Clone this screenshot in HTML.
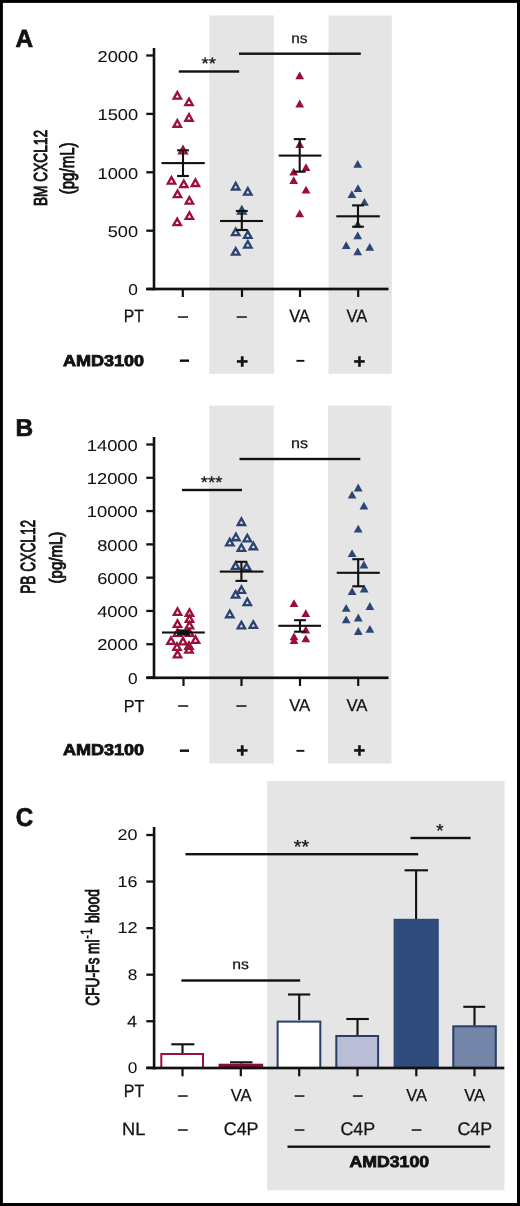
<!DOCTYPE html>
<html><head><meta charset="utf-8"><title>Figure</title>
<style>html,body{margin:0;padding:0;background:#fff;} svg{display:block;} text{font-family:"Liberation Sans", Arial, Helvetica, sans-serif;text-rendering:geometricPrecision;}</style>
</head><body>
<svg width="520" height="1206" viewBox="0 0 520 1206">
<rect x="0" y="0" width="520" height="1206" fill="#fff"/>
<rect x="209.30" y="15.40" width="64.60" height="358.40" fill="#e5e5e5"/>
<rect x="328.50" y="15.50" width="63.30" height="358.30" fill="#e5e5e5"/>
<text x="15.52" y="46.90" font-size="24.85" font-weight="bold" textLength="17.62" lengthAdjust="spacingAndGlyphs" fill="#111" stroke="#111" stroke-width="0.7">A</text>
<rect x="152.70" y="48.00" width="2.60" height="242.30" fill="#111"/>
<rect x="146.30" y="287.65" width="242.20" height="2.70" fill="#111"/>
<rect x="146.30" y="54.35" width="7.40" height="2.30" fill="#111"/>
<text x="97.49" y="61.74" font-size="15.63" textLength="40.63" lengthAdjust="spacingAndGlyphs" fill="#111" stroke="#111" stroke-width="0.05">2000</text>
<rect x="146.30" y="112.75" width="7.40" height="2.30" fill="#111"/>
<text x="97.49" y="120.14" font-size="15.63" textLength="40.62" lengthAdjust="spacingAndGlyphs" fill="#111" stroke="#111" stroke-width="0.05">1500</text>
<rect x="146.30" y="171.15" width="7.40" height="2.30" fill="#111"/>
<text x="97.49" y="178.54" font-size="15.63" textLength="40.62" lengthAdjust="spacingAndGlyphs" fill="#111" stroke="#111" stroke-width="0.05">1000</text>
<rect x="146.30" y="229.55" width="7.40" height="2.30" fill="#111"/>
<text x="107.69" y="236.94" font-size="15.63" textLength="30.31" lengthAdjust="spacingAndGlyphs" fill="#111" stroke="#111" stroke-width="0.05">500</text>
<rect x="146.30" y="287.85" width="7.40" height="2.30" fill="#111"/>
<text x="128.31" y="295.24" font-size="15.63" textLength="9.62" lengthAdjust="spacingAndGlyphs" fill="#111" stroke="#111" stroke-width="0.05">0</text>
<rect x="181.70" y="289.00" width="2.20" height="8.00" fill="#111"/>
<rect x="240.90" y="289.00" width="2.20" height="8.00" fill="#111"/>
<rect x="298.90" y="289.00" width="2.20" height="8.00" fill="#111"/>
<rect x="357.10" y="289.00" width="2.20" height="8.00" fill="#111"/>
<text transform="translate(46.96,206.04) rotate(-90)" x="0" y="0" font-size="18.87" textLength="76.05" lengthAdjust="spacingAndGlyphs" fill="#111" stroke="#111" stroke-width="0.9">BM CXCL12</text>
<text transform="translate(73.55,194.25) rotate(-90)" x="0" y="0" font-size="20.00" textLength="51.78" lengthAdjust="spacingAndGlyphs" fill="#111" stroke="#111" stroke-width="0.9">(pg/mL)</text>
<rect x="178.80" y="70.30" width="60.40" height="2.40" fill="#111"/>
<text x="201.58" y="68.98" font-size="16.57" textLength="14.52" lengthAdjust="spacingAndGlyphs" fill="#111" stroke="#111" stroke-width="0.25">**</text>
<rect x="239.00" y="52.50" width="121.80" height="2.40" fill="#111"/>
<text x="291.38" y="42.71" font-size="14.18" textLength="16.12" lengthAdjust="spacingAndGlyphs" fill="#111" stroke="#111" stroke-width="0.25">ns</text>
<text x="123.74" y="322.05" font-size="17.97" textLength="20.14" lengthAdjust="spacingAndGlyphs" fill="#111" stroke="#111" stroke-width="0.25">PT</text>
<text x="178.25" y="321.15" font-size="15.50" textLength="9.44" lengthAdjust="spacingAndGlyphs" fill="#111" stroke="#111" stroke-width="0.55">–</text>
<text x="237.05" y="321.15" font-size="15.50" textLength="9.44" lengthAdjust="spacingAndGlyphs" fill="#111" stroke="#111" stroke-width="0.55">–</text>
<text x="289.24" y="322.05" font-size="17.97" textLength="20.76" lengthAdjust="spacingAndGlyphs" fill="#111" stroke="#111" stroke-width="0.25">VA</text>
<text x="346.49" y="322.05" font-size="17.97" textLength="20.76" lengthAdjust="spacingAndGlyphs" fill="#111" stroke="#111" stroke-width="0.25">VA</text>
<text x="62.91" y="365.69" font-size="15.63" font-weight="bold" textLength="81.20" lengthAdjust="spacingAndGlyphs" fill="#111" stroke="#111" stroke-width="0.8">AMD3100</text>
<text x="179.15" y="365.46" font-size="16.00" font-weight="bold" textLength="10.39" lengthAdjust="spacingAndGlyphs" fill="#111" stroke="#111" stroke-width="0.6">-</text>
<text x="295.15" y="365.46" font-size="16.00" font-weight="bold" textLength="10.39" lengthAdjust="spacingAndGlyphs" fill="#111">-</text>
<text x="236.24" y="367.93" font-size="19.80" font-weight="bold" textLength="11.80" lengthAdjust="spacingAndGlyphs" fill="#111" stroke="#111" stroke-width="0.45">+</text>
<text x="353.44" y="367.93" font-size="19.80" font-weight="bold" textLength="11.80" lengthAdjust="spacingAndGlyphs" fill="#111" stroke="#111" stroke-width="0.45">+</text>
<path d="M177.30,89.75 L171.60,99.85 L183.00,99.85 Z M177.30,94.49 L175.59,97.52 L179.01,97.52 Z" fill="#9c0f3a" fill-rule="evenodd"/>
<path d="M189.00,96.15 L183.30,106.25 L194.70,106.25 Z M189.00,100.89 L187.29,103.92 L190.71,103.92 Z" fill="#9c0f3a" fill-rule="evenodd"/>
<path d="M189.00,111.85 L183.30,121.95 L194.70,121.95 Z M189.00,116.59 L187.29,119.62 L190.71,119.62 Z" fill="#9c0f3a" fill-rule="evenodd"/>
<path d="M177.30,117.85 L171.60,127.95 L183.00,127.95 Z M177.30,122.59 L175.59,125.62 L179.01,125.62 Z" fill="#9c0f3a" fill-rule="evenodd"/>
<path d="M183.00,144.45 L177.30,154.55 L188.70,154.55 Z M183.00,149.19 L181.29,152.22 L184.71,152.22 Z" fill="#9c0f3a" fill-rule="evenodd"/>
<path d="M171.50,174.75 L165.80,184.85 L177.20,184.85 Z M171.50,179.49 L169.79,182.52 L173.21,182.52 Z" fill="#9c0f3a" fill-rule="evenodd"/>
<path d="M183.80,178.25 L178.10,188.35 L189.50,188.35 Z M183.80,182.99 L182.09,186.02 L185.51,186.02 Z" fill="#9c0f3a" fill-rule="evenodd"/>
<path d="M195.40,177.05 L189.70,187.15 L201.10,187.15 Z M195.40,181.79 L193.69,184.82 L197.11,184.82 Z" fill="#9c0f3a" fill-rule="evenodd"/>
<path d="M177.50,188.25 L171.80,198.35 L183.20,198.35 Z M177.50,192.99 L175.79,196.02 L179.21,196.02 Z" fill="#9c0f3a" fill-rule="evenodd"/>
<path d="M189.40,194.75 L183.70,204.85 L195.10,204.85 Z M189.40,199.49 L187.69,202.52 L191.11,202.52 Z" fill="#9c0f3a" fill-rule="evenodd"/>
<path d="M189.40,209.95 L183.70,220.05 L195.10,220.05 Z M189.40,214.69 L187.69,217.72 L191.11,217.72 Z" fill="#9c0f3a" fill-rule="evenodd"/>
<path d="M177.20,216.25 L171.50,226.35 L182.90,226.35 Z M177.20,220.99 L175.49,224.02 L178.91,224.02 Z" fill="#9c0f3a" fill-rule="evenodd"/>
<path d="M235.70,180.55 L230.00,190.65 L241.40,190.65 Z M235.70,185.29 L233.99,188.32 L237.41,188.32 Z" fill="#2a4372" fill-rule="evenodd"/>
<path d="M247.80,185.75 L242.10,195.85 L253.50,195.85 Z M247.80,190.49 L246.09,193.52 L249.51,193.52 Z" fill="#2a4372" fill-rule="evenodd"/>
<path d="M241.80,204.75 L236.10,214.85 L247.50,214.85 Z M241.80,209.49 L240.09,212.52 L243.51,212.52 Z" fill="#2a4372" fill-rule="evenodd"/>
<path d="M235.70,226.15 L230.00,236.25 L241.40,236.25 Z M235.70,230.89 L233.99,233.92 L237.41,233.92 Z" fill="#2a4372" fill-rule="evenodd"/>
<path d="M247.80,228.95 L242.10,239.05 L253.50,239.05 Z M247.80,233.69 L246.09,236.72 L249.51,236.72 Z" fill="#2a4372" fill-rule="evenodd"/>
<path d="M247.80,238.75 L242.10,248.85 L253.50,248.85 Z M247.80,243.49 L246.09,246.52 L249.51,246.52 Z" fill="#2a4372" fill-rule="evenodd"/>
<path d="M235.70,245.75 L230.00,255.85 L241.40,255.85 Z M235.70,250.49 L233.99,253.52 L237.41,253.52 Z" fill="#2a4372" fill-rule="evenodd"/>
<path d="M299.70,71.50 L295.30,79.30 L304.10,79.30 Z" fill="#9a0f39"/>
<path d="M299.70,99.60 L295.30,107.40 L304.10,107.40 Z" fill="#9a0f39"/>
<path d="M299.70,140.10 L295.30,147.90 L304.10,147.90 Z" fill="#9a0f39"/>
<path d="M306.00,163.20 L301.60,171.00 L310.40,171.00 Z" fill="#9a0f39"/>
<path d="M293.70,167.80 L289.30,175.60 L298.10,175.60 Z" fill="#9a0f39"/>
<path d="M293.70,176.30 L289.30,184.10 L298.10,184.10 Z" fill="#9a0f39"/>
<path d="M306.00,185.70 L301.60,193.50 L310.40,193.50 Z" fill="#9a0f39"/>
<path d="M299.70,209.40 L295.30,217.20 L304.10,217.20 Z" fill="#9a0f39"/>
<path d="M357.70,159.90 L353.30,167.70 L362.10,167.70 Z" fill="#2c4676"/>
<path d="M358.00,184.20 L353.60,192.00 L362.40,192.00 Z" fill="#2c4676"/>
<path d="M351.90,190.20 L347.50,198.00 L356.30,198.00 Z" fill="#2c4676"/>
<path d="M364.40,198.00 L360.00,205.80 L368.80,205.80 Z" fill="#2c4676"/>
<path d="M357.70,219.90 L353.30,227.70 L362.10,227.70 Z" fill="#2c4676"/>
<path d="M357.70,231.50 L353.30,239.30 L362.10,239.30 Z" fill="#2c4676"/>
<path d="M346.20,241.30 L341.80,249.10 L350.60,249.10 Z" fill="#2c4676"/>
<path d="M369.80,243.00 L365.40,250.80 L374.20,250.80 Z" fill="#2c4676"/>
<path d="M357.70,247.40 L353.30,255.20 L362.10,255.20 Z" fill="#2c4676"/>
<rect x="161.50" y="162.05" width="43.30" height="2.10" fill="#111"/>
<rect x="181.95" y="150.30" width="2.10" height="25.70" fill="#111"/>
<rect x="177.10" y="149.25" width="11.80" height="2.10" fill="#111"/>
<rect x="177.10" y="174.95" width="11.80" height="2.10" fill="#111"/>
<rect x="220.10" y="219.95" width="42.90" height="2.10" fill="#111"/>
<rect x="240.75" y="211.00" width="2.10" height="19.00" fill="#111"/>
<rect x="235.90" y="209.95" width="11.80" height="2.10" fill="#111"/>
<rect x="235.90" y="228.95" width="11.80" height="2.10" fill="#111"/>
<rect x="278.70" y="154.55" width="42.70" height="2.10" fill="#111"/>
<rect x="298.65" y="139.10" width="2.10" height="32.60" fill="#111"/>
<rect x="293.80" y="138.05" width="11.80" height="2.10" fill="#111"/>
<rect x="293.80" y="170.65" width="11.80" height="2.10" fill="#111"/>
<rect x="336.30" y="215.25" width="43.50" height="2.10" fill="#111"/>
<rect x="356.95" y="205.40" width="2.10" height="21.30" fill="#111"/>
<rect x="352.10" y="204.35" width="11.80" height="2.10" fill="#111"/>
<rect x="352.10" y="225.65" width="11.80" height="2.10" fill="#111"/>
<rect x="209.30" y="405.60" width="64.50" height="357.90" fill="#e5e5e5"/>
<rect x="328.00" y="405.60" width="63.50" height="357.90" fill="#e5e5e5"/>
<text x="15.44" y="435.95" font-size="24.35" font-weight="bold" textLength="17.64" lengthAdjust="spacingAndGlyphs" fill="#111" stroke="#111" stroke-width="0.7">B</text>
<rect x="152.70" y="437.00" width="2.60" height="242.10" fill="#111"/>
<rect x="146.30" y="676.45" width="242.20" height="2.70" fill="#111"/>
<rect x="146.30" y="443.35" width="7.70" height="2.30" fill="#111"/>
<text x="86.80" y="450.74" font-size="15.63" textLength="50.94" lengthAdjust="spacingAndGlyphs" fill="#111" stroke="#111" stroke-width="0.05">14000</text>
<rect x="146.30" y="476.64" width="7.70" height="2.30" fill="#111"/>
<text x="86.80" y="484.03" font-size="15.63" textLength="50.94" lengthAdjust="spacingAndGlyphs" fill="#111" stroke="#111" stroke-width="0.05">12000</text>
<rect x="146.30" y="509.93" width="7.70" height="2.30" fill="#111"/>
<text x="86.80" y="517.32" font-size="15.63" textLength="50.94" lengthAdjust="spacingAndGlyphs" fill="#111" stroke="#111" stroke-width="0.05">10000</text>
<rect x="146.30" y="543.22" width="7.70" height="2.30" fill="#111"/>
<text x="97.18" y="550.61" font-size="15.63" textLength="40.63" lengthAdjust="spacingAndGlyphs" fill="#111" stroke="#111" stroke-width="0.05">8000</text>
<rect x="146.30" y="576.51" width="7.70" height="2.30" fill="#111"/>
<text x="97.19" y="583.90" font-size="15.63" textLength="40.63" lengthAdjust="spacingAndGlyphs" fill="#111" stroke="#111" stroke-width="0.05">6000</text>
<rect x="146.30" y="609.80" width="7.70" height="2.30" fill="#111"/>
<text x="97.18" y="617.19" font-size="15.63" textLength="40.64" lengthAdjust="spacingAndGlyphs" fill="#111" stroke="#111" stroke-width="0.05">4000</text>
<rect x="146.30" y="643.09" width="7.70" height="2.30" fill="#111"/>
<text x="97.19" y="650.48" font-size="15.63" textLength="40.63" lengthAdjust="spacingAndGlyphs" fill="#111" stroke="#111" stroke-width="0.05">2000</text>
<rect x="146.30" y="676.38" width="7.70" height="2.30" fill="#111"/>
<text x="128.01" y="683.77" font-size="15.63" textLength="9.62" lengthAdjust="spacingAndGlyphs" fill="#111" stroke="#111" stroke-width="0.05">0</text>
<rect x="182.40" y="677.80" width="2.20" height="8.20" fill="#111"/>
<rect x="240.40" y="677.80" width="2.20" height="8.20" fill="#111"/>
<rect x="298.90" y="677.80" width="2.20" height="8.20" fill="#111"/>
<rect x="357.10" y="677.80" width="2.20" height="8.20" fill="#111"/>
<text transform="translate(34.84,593.85) rotate(-90)" x="0" y="0" font-size="20.56" textLength="74.11" lengthAdjust="spacingAndGlyphs" fill="#111" stroke="#111" stroke-width="0.9">PB CXCL12</text>
<text transform="translate(62.07,583.45) rotate(-90)" x="0" y="0" font-size="17.98" textLength="51.68" lengthAdjust="spacingAndGlyphs" fill="#111" stroke="#111" stroke-width="0.9">(pg/mL)</text>
<rect x="182.00" y="488.80" width="60.00" height="2.40" fill="#111"/>
<text x="200.88" y="488.08" font-size="16.86" textLength="21.59" lengthAdjust="spacingAndGlyphs" fill="#111" stroke="#111" stroke-width="0.25">***</text>
<rect x="239.50" y="457.80" width="120.80" height="2.40" fill="#111"/>
<text x="291.12" y="447.70" font-size="14.55" textLength="17.01" lengthAdjust="spacingAndGlyphs" fill="#111" stroke="#111" stroke-width="0.25">ns</text>
<text x="123.70" y="711.65" font-size="17.39" textLength="20.79" lengthAdjust="spacingAndGlyphs" fill="#111" stroke="#111" stroke-width="0.25">PT</text>
<text x="178.55" y="710.35" font-size="15.50" textLength="9.44" lengthAdjust="spacingAndGlyphs" fill="#111" stroke="#111" stroke-width="0.55">–</text>
<text x="236.75" y="710.35" font-size="15.50" textLength="9.44" lengthAdjust="spacingAndGlyphs" fill="#111" stroke="#111" stroke-width="0.55">–</text>
<text x="289.23" y="710.85" font-size="17.10" textLength="21.06" lengthAdjust="spacingAndGlyphs" fill="#111" stroke="#111" stroke-width="0.25">VA</text>
<text x="346.48" y="710.85" font-size="17.10" textLength="21.06" lengthAdjust="spacingAndGlyphs" fill="#111" stroke="#111" stroke-width="0.25">VA</text>
<text x="62.91" y="755.19" font-size="15.63" font-weight="bold" textLength="81.20" lengthAdjust="spacingAndGlyphs" fill="#111" stroke="#111" stroke-width="0.8">AMD3100</text>
<text x="179.15" y="754.96" font-size="16.00" font-weight="bold" textLength="10.39" lengthAdjust="spacingAndGlyphs" fill="#111" stroke="#111" stroke-width="0.6">-</text>
<text x="295.15" y="754.96" font-size="16.00" font-weight="bold" textLength="10.39" lengthAdjust="spacingAndGlyphs" fill="#111">-</text>
<text x="236.24" y="757.43" font-size="19.80" font-weight="bold" textLength="11.80" lengthAdjust="spacingAndGlyphs" fill="#111" stroke="#111" stroke-width="0.45">+</text>
<text x="353.44" y="757.43" font-size="19.80" font-weight="bold" textLength="11.80" lengthAdjust="spacingAndGlyphs" fill="#111" stroke="#111" stroke-width="0.45">+</text>
<path d="M177.50,605.95 L171.80,616.05 L183.20,616.05 Z M177.50,610.69 L175.79,613.72 L179.21,613.72 Z" fill="#9c0f3a" fill-rule="evenodd"/>
<path d="M189.50,606.95 L183.80,617.05 L195.20,617.05 Z M189.50,611.69 L187.79,614.72 L191.21,614.72 Z" fill="#9c0f3a" fill-rule="evenodd"/>
<path d="M189.50,612.95 L183.80,623.05 L195.20,623.05 Z M189.50,617.69 L187.79,620.72 L191.21,620.72 Z" fill="#9c0f3a" fill-rule="evenodd"/>
<path d="M177.50,617.95 L171.80,628.05 L183.20,628.05 Z M177.50,622.69 L175.79,625.72 L179.21,625.72 Z" fill="#9c0f3a" fill-rule="evenodd"/>
<path d="M189.50,619.45 L183.80,629.55 L195.20,629.55 Z M189.50,624.19 L187.79,627.22 L191.21,627.22 Z" fill="#9c0f3a" fill-rule="evenodd"/>
<path d="M177.50,626.95 L171.80,637.05 L183.20,637.05 Z M177.50,631.69 L175.79,634.72 L179.21,634.72 Z" fill="#9c0f3a" fill-rule="evenodd"/>
<path d="M189.50,626.95 L183.80,637.05 L195.20,637.05 Z M189.50,631.69 L187.79,634.72 L191.21,634.72 Z" fill="#9c0f3a" fill-rule="evenodd"/>
<path d="M171.00,634.95 L165.30,645.05 L176.70,645.05 Z M171.00,639.69 L169.29,642.72 L172.71,642.72 Z" fill="#9c0f3a" fill-rule="evenodd"/>
<path d="M183.00,635.45 L177.30,645.55 L188.70,645.55 Z M183.00,640.19 L181.29,643.22 L184.71,643.22 Z" fill="#9c0f3a" fill-rule="evenodd"/>
<path d="M195.50,633.95 L189.80,644.05 L201.20,644.05 Z M195.50,638.69 L193.79,641.72 L197.21,641.72 Z" fill="#9c0f3a" fill-rule="evenodd"/>
<path d="M177.00,640.95 L171.30,651.05 L182.70,651.05 Z M177.00,645.69 L175.29,648.72 L178.71,648.72 Z" fill="#9c0f3a" fill-rule="evenodd"/>
<path d="M189.00,639.95 L183.30,650.05 L194.70,650.05 Z M189.00,644.69 L187.29,647.72 L190.71,647.72 Z" fill="#9c0f3a" fill-rule="evenodd"/>
<path d="M189.00,643.75 L183.30,653.85 L194.70,653.85 Z M189.00,648.49 L187.29,651.52 L190.71,651.52 Z" fill="#9c0f3a" fill-rule="evenodd"/>
<path d="M177.50,648.45 L171.80,658.55 L183.20,658.55 Z M177.50,653.19 L175.79,656.22 L179.21,656.22 Z" fill="#9c0f3a" fill-rule="evenodd"/>
<path d="M241.40,516.05 L235.70,526.15 L247.10,526.15 Z M241.40,520.79 L239.69,523.82 L243.11,523.82 Z" fill="#2a4372" fill-rule="evenodd"/>
<path d="M235.90,531.35 L230.20,541.45 L241.60,541.45 Z M235.90,536.09 L234.19,539.12 L237.61,539.12 Z" fill="#2a4372" fill-rule="evenodd"/>
<path d="M229.80,536.45 L224.10,546.55 L235.50,546.55 Z M229.80,541.19 L228.09,544.22 L231.51,544.22 Z" fill="#2a4372" fill-rule="evenodd"/>
<path d="M247.30,532.45 L241.60,542.55 L253.00,542.55 Z M247.30,537.19 L245.59,540.22 L249.01,540.22 Z" fill="#2a4372" fill-rule="evenodd"/>
<path d="M241.40,541.95 L235.70,552.05 L247.10,552.05 Z M241.40,546.69 L239.69,549.72 L243.11,549.72 Z" fill="#2a4372" fill-rule="evenodd"/>
<path d="M253.30,540.35 L247.60,550.45 L259.00,550.45 Z M253.30,545.09 L251.59,548.12 L255.01,548.12 Z" fill="#2a4372" fill-rule="evenodd"/>
<path d="M235.60,559.95 L229.90,570.05 L241.30,570.05 Z M235.60,564.69 L233.89,567.72 L237.31,567.72 Z" fill="#2a4372" fill-rule="evenodd"/>
<path d="M246.70,560.95 L241.00,571.05 L252.40,571.05 Z M246.70,565.69 L244.99,568.72 L248.41,568.72 Z" fill="#2a4372" fill-rule="evenodd"/>
<path d="M241.40,583.95 L235.70,594.05 L247.10,594.05 Z M241.40,588.69 L239.69,591.72 L243.11,591.72 Z" fill="#2a4372" fill-rule="evenodd"/>
<path d="M235.60,588.75 L229.90,598.85 L241.30,598.85 Z M235.60,593.49 L233.89,596.52 L237.31,596.52 Z" fill="#2a4372" fill-rule="evenodd"/>
<path d="M247.30,596.15 L241.60,606.25 L253.00,606.25 Z M247.30,600.89 L245.59,603.92 L249.01,603.92 Z" fill="#2a4372" fill-rule="evenodd"/>
<path d="M229.80,608.35 L224.10,618.45 L235.50,618.45 Z M229.80,613.09 L228.09,616.12 L231.51,616.12 Z" fill="#2a4372" fill-rule="evenodd"/>
<path d="M241.40,619.45 L235.70,629.55 L247.10,629.55 Z M241.40,624.19 L239.69,627.22 L243.11,627.22 Z" fill="#2a4372" fill-rule="evenodd"/>
<path d="M253.30,618.95 L247.60,629.05 L259.00,629.05 Z M253.30,623.69 L251.59,626.72 L255.01,626.72 Z" fill="#2a4372" fill-rule="evenodd"/>
<path d="M294.00,599.30 L289.60,607.10 L298.40,607.10 Z" fill="#9a0f39"/>
<path d="M305.80,609.20 L301.40,617.00 L310.20,617.00 Z" fill="#9a0f39"/>
<path d="M305.80,625.70 L301.40,633.50 L310.20,633.50 Z" fill="#9a0f39"/>
<path d="M294.00,632.40 L289.60,640.20 L298.40,640.20 Z" fill="#9a0f39"/>
<path d="M305.80,634.40 L301.40,642.20 L310.20,642.20 Z" fill="#9a0f39"/>
<path d="M294.00,636.30 L289.60,644.10 L298.40,644.10 Z" fill="#9a0f39"/>
<path d="M358.20,483.60 L353.80,491.40 L362.60,491.40 Z" fill="#2c4676"/>
<path d="M352.10,490.80 L347.70,498.60 L356.50,498.60 Z" fill="#2c4676"/>
<path d="M363.90,501.80 L359.50,509.60 L368.30,509.60 Z" fill="#2c4676"/>
<path d="M358.20,524.70 L353.80,532.50 L362.60,532.50 Z" fill="#2c4676"/>
<path d="M352.10,549.20 L347.70,557.00 L356.50,557.00 Z" fill="#2c4676"/>
<path d="M363.90,560.60 L359.50,568.40 L368.30,568.40 Z" fill="#2c4676"/>
<path d="M352.10,587.30 L347.70,595.10 L356.50,595.10 Z" fill="#2c4676"/>
<path d="M364.20,584.60 L359.80,592.40 L368.60,592.40 Z" fill="#2c4676"/>
<path d="M346.20,604.00 L341.80,611.80 L350.60,611.80 Z" fill="#2c4676"/>
<path d="M369.90,602.10 L365.50,609.90 L374.30,609.90 Z" fill="#2c4676"/>
<path d="M346.20,615.50 L341.80,623.30 L350.60,623.30 Z" fill="#2c4676"/>
<path d="M358.30,613.60 L353.90,621.40 L362.70,621.40 Z" fill="#2c4676"/>
<path d="M358.30,627.10 L353.90,634.90 L362.70,634.90 Z" fill="#2c4676"/>
<path d="M369.90,625.00 L365.50,632.80 L374.30,632.80 Z" fill="#2c4676"/>
<rect x="162.00" y="631.45" width="42.80" height="2.10" fill="#111"/>
<rect x="182.45" y="630.60" width="2.10" height="3.80" fill="#111"/>
<rect x="177.25" y="629.55" width="12.50" height="2.10" fill="#111"/>
<rect x="177.25" y="633.35" width="12.50" height="2.10" fill="#111"/>
<rect x="177.40" y="629.80" width="12.40" height="5.40" fill="#111"/>
<rect x="219.80" y="570.55" width="43.60" height="2.10" fill="#111"/>
<rect x="240.35" y="561.80" width="2.10" height="19.10" fill="#111"/>
<rect x="235.50" y="560.75" width="11.80" height="2.10" fill="#111"/>
<rect x="235.50" y="579.85" width="11.80" height="2.10" fill="#111"/>
<rect x="278.40" y="624.75" width="42.60" height="2.10" fill="#111"/>
<rect x="298.95" y="620.20" width="2.10" height="11.50" fill="#111"/>
<rect x="294.10" y="619.15" width="11.80" height="2.10" fill="#111"/>
<rect x="294.10" y="630.65" width="11.80" height="2.10" fill="#111"/>
<rect x="336.70" y="571.75" width="43.10" height="2.10" fill="#111"/>
<rect x="357.15" y="559.20" width="2.10" height="27.10" fill="#111"/>
<rect x="352.30" y="558.15" width="11.80" height="2.10" fill="#111"/>
<rect x="352.30" y="585.25" width="11.80" height="2.10" fill="#111"/>
<rect x="267.10" y="781.00" width="237.40" height="409.30" fill="#e5e5e5"/>
<text x="15.78" y="826.29" font-size="25.77" font-weight="bold" textLength="17.44" lengthAdjust="spacingAndGlyphs" fill="#111" stroke="#111" stroke-width="0.7">C</text>
<rect x="146.30" y="833.85" width="7.90" height="2.30" fill="#111"/>
<text x="117.49" y="840.05" font-size="15.49" textLength="19.97" lengthAdjust="spacingAndGlyphs" fill="#111" stroke="#111" stroke-width="0.05">20</text>
<rect x="146.30" y="880.41" width="7.90" height="2.30" fill="#111"/>
<text x="117.51" y="886.61" font-size="15.49" textLength="19.95" lengthAdjust="spacingAndGlyphs" fill="#111" stroke="#111" stroke-width="0.05">16</text>
<rect x="146.30" y="926.97" width="7.90" height="2.30" fill="#111"/>
<text x="117.41" y="933.32" font-size="15.71" textLength="20.24" lengthAdjust="spacingAndGlyphs" fill="#111" stroke="#111" stroke-width="0.05">12</text>
<rect x="146.30" y="973.53" width="7.90" height="2.30" fill="#111"/>
<text x="127.89" y="979.73" font-size="15.49" textLength="9.61" lengthAdjust="spacingAndGlyphs" fill="#111" stroke="#111" stroke-width="0.05">8</text>
<rect x="146.30" y="1020.09" width="7.90" height="2.30" fill="#111"/>
<text x="127.06" y="1026.60" font-size="16.18" textLength="10.12" lengthAdjust="spacingAndGlyphs" fill="#111" stroke="#111" stroke-width="0.05">4</text>
<rect x="146.30" y="1066.65" width="7.90" height="2.30" fill="#111"/>
<text x="127.71" y="1072.85" font-size="15.49" textLength="9.62" lengthAdjust="spacingAndGlyphs" fill="#111" stroke="#111" stroke-width="0.05">0</text>
<rect x="160.30" y="1053.00" width="43.70" height="14.90" fill="#9c0f3a"/>
<rect x="162.30" y="1055.00" width="39.70" height="12.90" fill="#fff"/>
<rect x="218.60" y="1063.70" width="44.60" height="4.20" fill="#8a0e30"/>
<rect x="276.60" y="1020.60" width="44.70" height="47.30" fill="#283d68"/>
<rect x="278.60" y="1022.60" width="40.70" height="45.30" fill="#fff"/>
<rect x="335.30" y="1035.00" width="43.80" height="32.90" fill="#283d68"/>
<rect x="337.30" y="1037.00" width="39.80" height="30.90" fill="#b9bed6"/>
<rect x="393.60" y="918.80" width="45.20" height="149.10" fill="#2e4b7c"/>
<rect x="452.30" y="1025.30" width="44.50" height="42.60" fill="#283d68"/>
<rect x="454.30" y="1027.30" width="40.50" height="40.60" fill="#7584a9"/>
<rect x="181.45" y="1044.30" width="2.10" height="8.70" fill="#111"/>
<rect x="171.30" y="1043.25" width="23.00" height="2.10" fill="#111"/>
<rect x="239.95" y="1062.30" width="2.10" height="1.20" fill="#111"/>
<rect x="230.00" y="1061.25" width="22.50" height="2.10" fill="#111"/>
<rect x="298.15" y="994.50" width="2.10" height="25.50" fill="#111"/>
<rect x="288.00" y="993.45" width="22.20" height="2.10" fill="#111"/>
<rect x="356.45" y="1019.00" width="2.10" height="16.00" fill="#111"/>
<rect x="346.30" y="1017.95" width="22.50" height="2.10" fill="#111"/>
<rect x="415.05" y="870.30" width="2.10" height="48.70" fill="#111"/>
<rect x="404.60" y="869.25" width="23.40" height="2.10" fill="#111"/>
<rect x="473.45" y="1006.80" width="2.10" height="18.70" fill="#111"/>
<rect x="463.30" y="1005.75" width="21.90" height="2.10" fill="#111"/>
<rect x="152.80" y="827.00" width="2.60" height="242.40" fill="#111"/>
<rect x="146.30" y="1066.65" width="358.00" height="2.70" fill="#111"/>
<rect x="181.40" y="1068.00" width="2.20" height="8.30" fill="#111"/>
<rect x="239.70" y="1068.00" width="2.20" height="8.30" fill="#111"/>
<rect x="298.10" y="1068.00" width="2.20" height="8.30" fill="#111"/>
<rect x="356.40" y="1068.00" width="2.20" height="8.30" fill="#111"/>
<rect x="415.20" y="1068.00" width="2.20" height="8.30" fill="#111"/>
<rect x="473.40" y="1068.00" width="2.20" height="8.30" fill="#111"/>
<rect x="185.50" y="853.00" width="232.70" height="2.40" fill="#111"/>
<text x="293.86" y="853.46" font-size="18.86" textLength="15.36" lengthAdjust="spacingAndGlyphs" fill="#111" stroke="#111" stroke-width="0.25">**</text>
<rect x="410.50" y="836.80" width="60.10" height="2.40" fill="#111"/>
<text x="436.37" y="837.26" font-size="18.86" textLength="7.34" lengthAdjust="spacingAndGlyphs" fill="#111" stroke="#111" stroke-width="0.25">*</text>
<rect x="181.30" y="979.30" width="118.90" height="2.40" fill="#111"/>
<text x="232.35" y="969.41" font-size="14.18" textLength="16.57" lengthAdjust="spacingAndGlyphs" fill="#111" stroke="#111" stroke-width="0.25">ns</text>
<text transform="translate(99.16,1005.63) rotate(-90)" x="0" y="0" font-size="18.92" textLength="66.13" lengthAdjust="spacingAndGlyphs" fill="#111" stroke="#111" stroke-width="0.9">CFU-Fs ml</text>
<text transform="translate(99.36,923.12) rotate(-90)" x="0" y="0" font-size="19.19" textLength="34.00" lengthAdjust="spacingAndGlyphs" fill="#111" stroke="#111" stroke-width="0.9">blood</text>
<text transform="translate(92.05,939.02) rotate(-90)" x="0" y="0" font-size="16.38" textLength="10.56" lengthAdjust="spacingAndGlyphs" fill="#111" stroke="#111" stroke-width="0.3">-1</text>
<text x="123.72" y="1097.25" font-size="17.97" textLength="20.47" lengthAdjust="spacingAndGlyphs" fill="#111" stroke="#111" stroke-width="0.25">PT</text>
<text x="122.14" y="1135.35" font-size="17.97" textLength="23.38" lengthAdjust="spacingAndGlyphs" fill="#111" stroke="#111" stroke-width="0.25">NL</text>
<text x="178.30" y="1100.45" font-size="15.50" textLength="9.14" lengthAdjust="spacingAndGlyphs" fill="#111" stroke="#111" stroke-width="0.55">–</text>
<text x="178.30" y="1134.05" font-size="15.50" textLength="9.14" lengthAdjust="spacingAndGlyphs" fill="#111" stroke="#111" stroke-width="0.55">–</text>
<text x="230.64" y="1101.15" font-size="17.39" textLength="20.76" lengthAdjust="spacingAndGlyphs" fill="#111" stroke="#111" stroke-width="0.25">VA</text>
<text x="223.76" y="1135.42" font-size="18.31" textLength="34.78" lengthAdjust="spacingAndGlyphs" fill="#111" stroke="#111" stroke-width="0.25">C4P</text>
<text x="295.00" y="1100.45" font-size="15.50" textLength="9.14" lengthAdjust="spacingAndGlyphs" fill="#111" stroke="#111" stroke-width="0.55">–</text>
<text x="295.00" y="1134.05" font-size="15.50" textLength="9.14" lengthAdjust="spacingAndGlyphs" fill="#111" stroke="#111" stroke-width="0.55">–</text>
<text x="353.30" y="1100.45" font-size="15.50" textLength="9.14" lengthAdjust="spacingAndGlyphs" fill="#111" stroke="#111" stroke-width="0.55">–</text>
<text x="340.46" y="1135.42" font-size="18.31" textLength="34.78" lengthAdjust="spacingAndGlyphs" fill="#111" stroke="#111" stroke-width="0.25">C4P</text>
<text x="406.14" y="1101.15" font-size="17.39" textLength="20.76" lengthAdjust="spacingAndGlyphs" fill="#111" stroke="#111" stroke-width="0.25">VA</text>
<text x="412.10" y="1134.05" font-size="15.50" textLength="9.14" lengthAdjust="spacingAndGlyphs" fill="#111" stroke="#111" stroke-width="0.55">–</text>
<text x="464.34" y="1101.15" font-size="17.39" textLength="20.76" lengthAdjust="spacingAndGlyphs" fill="#111" stroke="#111" stroke-width="0.25">VA</text>
<text x="457.46" y="1135.42" font-size="18.31" textLength="34.78" lengthAdjust="spacingAndGlyphs" fill="#111" stroke="#111" stroke-width="0.25">C4P</text>
<rect x="287.50" y="1145.50" width="202.70" height="2.40" fill="#111"/>
<text x="349.42" y="1166.89" font-size="15.92" font-weight="bold" textLength="79.67" lengthAdjust="spacingAndGlyphs" fill="#111" stroke="#111" stroke-width="0.8">AMD3100</text>
<rect x="0.00" y="0.00" width="520.00" height="2.90" fill="#000"/>
<rect x="0.00" y="0.00" width="2.90" height="1206.00" fill="#000"/>
<rect x="517.00" y="0.00" width="3.00" height="1206.00" fill="#000"/>
<rect x="0.00" y="1203.00" width="520.00" height="3.00" fill="#000"/>
</svg>
</body></html>
